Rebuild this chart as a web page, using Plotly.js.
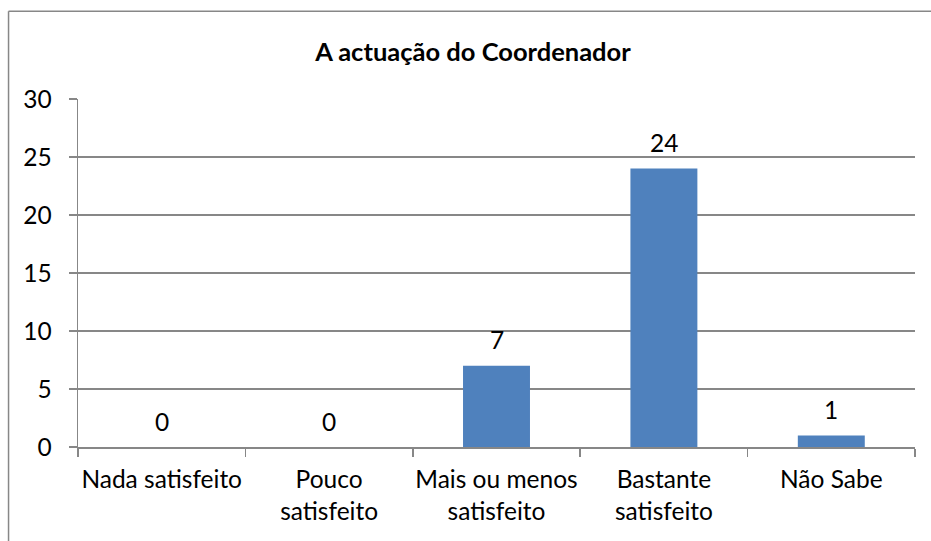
<!DOCTYPE html>
<html>
<head>
<meta charset="utf-8">
<script src="https://cdn.plot.ly/plotly-3.0.1.min.js"></script>
<style>
html,body{margin:0;padding:0;background:#fff;}
#chart{width:931px;height:541px;}
</style>
</head>
<body>
<div id="chart"></div>
<script>
const categories = ["Nada satisfeito", "Pouco<br>satisfeito", "Mais ou menos<br>satisfeito", "Bastante<br>satisfeito", "Não Sabe"];
const values = [0, 0, 7, 24, 1];
const yTicks = [0, 5, 10, 15, 20, 25, 30];
const chartTitle = "A actuação do Coordenador";

const FONT = "Lato, 'Open Sans', sans-serif";
const GRAY = "#878787";
const FS = 24.5;

const trace = {
  type: "bar",
  x: categories,
  y: values,
  marker: {color: "#4F81BD", line: {width: 0}},
  hoverinfo: "none",
  showlegend: false
};

const labelAnnotations = categories.map((c, i) => ({
  x: c, y: values[i], xref: "x", yref: "y",
  text: String(values[i]),
  showarrow: false,
  yanchor: "middle",
  yshift: 26,
  font: {family: FONT, size: FS, color: "#000"}
}));

const layout = {
  width: 931, height: 541,
  margin: {l: 78, r: 15.5, t: 98.5, b: 93.5},
  paper_bgcolor: "#fff", plot_bgcolor: "#fff",
  bargap: 0.6,
  font: {family: FONT, size: FS, color: "#000"},
  title: {text: "<b>" + chartTitle + "</b>", x: 0.508, xanchor: "center", y: 0.904, yanchor: "middle",
          font: {family: FONT, size: 25.5, color: "#000"}},
  xaxis: {
    type: "category",
    tickson: "boundaries",
    tickangle: 0,
    ticks: "outside", ticklen: 8, tickwidth: 1.5, tickcolor: GRAY,
    showline: true, linecolor: GRAY, linewidth: 1.5,
    showgrid: false, zeroline: false,
    ticklabelstandoff: 10,
    tickfont: {family: FONT, size: FS, color: "#000"},
    fixedrange: true
  },
  yaxis: {
    range: [0, 30],
    tickvals: yTicks,
    ticktext: yTicks.map(String),
    ticks: "outside", ticklen: 8, tickwidth: 1.5, tickcolor: GRAY,
    showline: true, linecolor: GRAY, linewidth: 1.5,
    showgrid: true, gridcolor: GRAY, gridwidth: 1.5,
    zeroline: false,
    ticklabelstandoff: 12,
    tickfont: {family: FONT, size: FS, color: "#000"},
    fixedrange: true
  },
  annotations: labelAnnotations,
  shapes: [
    {type: "line", xref: "paper", yref: "paper", x0: (8.5-78)/837.5, x1: 1.1, y0: 1 + (98.5-10.5)/349, y1: 1 + (98.5-10.5)/349, line: {color: GRAY, width: 1.5}},
    {type: "line", xref: "paper", yref: "paper", x0: (8.5-78)/837.5, x1: (8.5-78)/837.5, y0: 1 + (98.5-10.5)/349, y1: -0.4, line: {color: GRAY, width: 1.5}}
  ]
};

Plotly.newPlot("chart", [trace], layout, {staticPlot: true, displayModeBar: false});
</script>
</body>
</html>
